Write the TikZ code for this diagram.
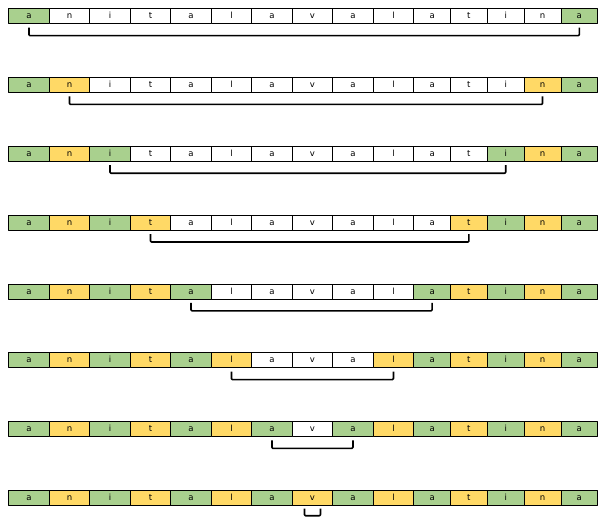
\documentclass[tikz,border=0pt]{standalone}
\usepackage{fontspec}
\setmainfont{DejaVu Sans}
\definecolor{cellgreen}{HTML}{A9D08E}
\definecolor{cellyellow}{HTML}{FFD966}
\begin{document}
\begin{tikzpicture}[x=1pt, y=-1pt, line join=round, font=\fontsize{8.5}{10}\selectfont]
	\tikzset{cell/.style={draw, line width=0.8pt, minimum height=15pt, inner sep=0pt, text height=6pt, text depth=0.5pt, anchor=north west},
		brace line/.style={line width=1.6pt, rounded corners=1pt}}
	\useasboundingbox (0,0) rectangle (607,523);
	\foreach \r in {0,...,7}{
		\foreach \ch [count=\k from 0] in {a,n,i,t,a,l,a,v,a,l,a,t,i,n,a}{
			\pgfmathsetmacro{\xl}{\k<10 ? 8.3+40.5*\k : 413.3+36.8*(\k-10)}
			\pgfmathsetmacro{\w}{\k<10 ? 40.5 : 36.8}
			\pgfmathtruncatemacro{\m}{min(\k,14-\k)}
			\ifnum\m>\r \def\fillc{white}\else\ifodd\m \def\fillc{cellyellow}\else\def\fillc{cellgreen}\fi\fi
			\node[cell, minimum width=\w pt, fill=\fillc] (c\r-\k) at (\xl, 8.3+68.8*\r) {\ch};
		}
		\pgfmathtruncatemacro{\j}{14-\r}
		\ifnum\r<7
			\draw[brace line] ([yshift=-3.5pt]c\r-\r.south) -- ++(0,8) -| ([yshift=-3.5pt]c\r-\j.south);
		\else
			\draw[brace line] ([xshift=-8pt, yshift=-3pt]c\r-\r.south) -- ++(0,7) -| ([xshift=8pt, yshift=-3pt]c\r-\j.south);
		\fi
	}
\end{tikzpicture}
\end{document}
